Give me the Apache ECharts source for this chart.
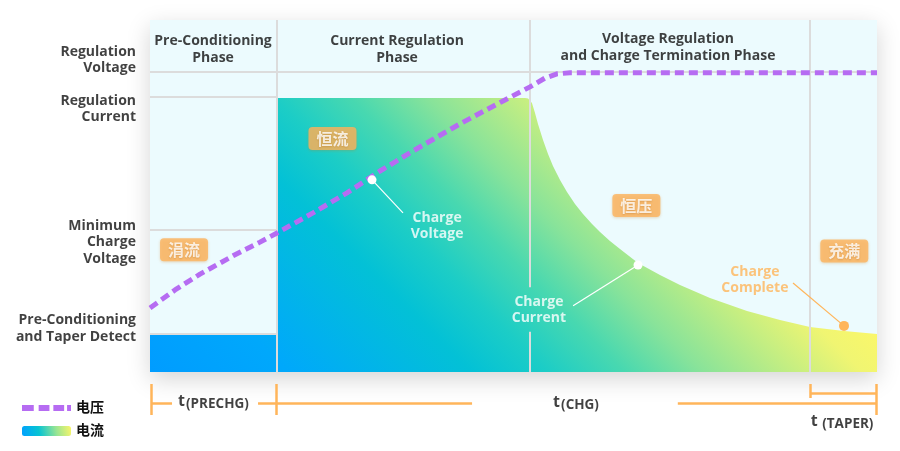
<!DOCTYPE html>
<html><head><meta charset="utf-8">
<script src="https://cdn.jsdelivr.net/npm/echarts@6/dist/echarts.min.js"></script>
<style>html,body{margin:0;padding:0;background:#fff}#c{width:900px;height:451px}</style>
</head><body><div id="c"></div>
<script>
// ---- Data (time axis 0-100, level axis 0-100) ----
const phaseEdges = [17.5, 52.3, 90.8];
const headerLevel = 85.2;
const precondLevels = [78.1, 40.3, 10.8];
const dividerGap = [11.4, 24.1];

const voltageT = [0, 3.44, 6.88, 11.42, 15.13, 17.47, 22.42, 27.1, 31.64, 36.18, 42.64, 48.56, 52.27, 54.33, 55.98, 57.77, 100];
const voltageV = [18.2, 23.3, 27.8, 33.0, 36.9, 39.5, 45.2, 50.9, 57.1, 62.8, 70.5, 77.0, 81.0, 83.5, 84.7, 85.0, 85.0];

const currentT = [0, 17.5, 17.5, 51.6, 52.0, 52.27, 52.54, 52.96, 53.37, 54.06, 54.75, 55.43, 56.40, 57.36, 58.46, 59.56, 60.80, 61.90, 63.27, 64.65, 67.13, 70.15, 72.90, 77.03, 82.12, 86.66, 90.78, 95.46, 100];
const currentI = [10.5, 10.5, 77.84, 77.84, 77.7, 77.3, 76.42, 73.58, 70.45, 65.91, 61.93, 58.52, 54.55, 51.14, 47.73, 44.89, 42.05, 39.77, 37.22, 34.94, 30.97, 27.56, 24.72, 21.02, 17.33, 14.77, 12.78, 11.65, 10.80];

const yLabelNames = ['Regulation\nVoltage', 'Regulation\nCurrent', 'Minimum\nCharge\nVoltage', 'Pre-Conditioning\nand Taper Detect'];
const yLabelLevels = [88.6, 74.7, 36.9, 12.4];

const phaseNames = ['Pre-Conditioning\nPhase', 'Current Regulation\nPhase', 'Voltage Regulation\nand Charge Termination Phase'];
const phaseNameX = [8.67, 33.98, 71.25];
const phaseNameY = [91.5, 91.6, 92.2];

const badgeNames = ['涓流', '恒流', '恒压', '充满'];
const badgeX = [4.68, 25.1, 66.9, 95.5];
const badgeY = [34.7, 66.3, 47.3, 34.4];

const noteNames = ['Charge\nVoltage', 'Charge\nCurrent', 'Charge\nComplete'];
const noteColors = ['#ffffff', '#ffffff', '#ffb55a'];
const noteX = [39.49, 53.5, 83.2];
const noteY = [41.6, 17.5, 26.1];
const notePointX = [30.54, 67.13, 95.46];
const notePointY = [54.6, 30.4, 13.1];
const noteLeaderX = [34.8, 58.2, 88.45];
const noteLeaderY = [45.2, 18.8, 25.3];

// timeline (second grid, level measured downward)
const tlNames = ['PRECHG', 'CHG', 'TAPER'];
const tlLabelX = [8.73, 58.6, 95.2];
const tlLabelY = [32, 33, 52];
const tlMainY = 31, tlTaperY = 21, tlTickTop = 12, tlTickBot = 43, tlTaperTickBot = 26;
const tlMainSegs = [[0.15, 3.03], [14.86, 44.3], [72.6, 99.9]];
const tlTicksX = [0.15, 17.3, 99.9];
const tlTaperX = [90.8, 99.9];

const legendNames = ['电压', '电流'];

// ---- Build ----
const FONT = '"Open Sans","Noto Sans CJK SC",sans-serif';
const zip = (a, b) => a.map((v, i) => [v, b[i]]);

const gridLines = [{coords: [[0, headerLevel], [100, headerLevel]]}];
precondLevels.forEach(l => gridLines.push({coords: [[0, l], [phaseEdges[0], l]]}));
gridLines.push({coords: [[phaseEdges[0], 0], [phaseEdges[0], 100]]});
gridLines.push({coords: [[phaseEdges[1], 100], [phaseEdges[1], dividerGap[1]]]});
gridLines.push({coords: [[phaseEdges[1], dividerGap[0]], [phaseEdges[1], 0]]});
gridLines.push({coords: [[phaseEdges[2], 0], [phaseEdges[2], 100]]});

const leaders = notePointX.map((x, i) => ({coords: [[x, notePointY[i]], [noteLeaderX[i], noteLeaderY[i]]], lineStyle: {color: noteColors[i]}}));

const tlSegs = [];
tlMainSegs.forEach(s => tlSegs.push({coords: [[s[0], tlMainY], [s[1], tlMainY]]}));
tlTicksX.forEach(x => tlSegs.push({coords: [[x, tlTickTop], [x, tlTickBot]]}));
tlSegs.push({coords: [[tlTaperX[0], tlTickTop], [tlTaperX[0], tlTaperTickBot]]});
tlSegs.push({coords: [[tlTaperX[0], tlTaperY], [tlTaperX[1], tlTaperY]]});

const stops = [
  {offset: 0, color: '#009cff'}, {offset: 0.18, color: '#00a8fb'}, {offset: 0.42, color: '#03c1d6'},
  {offset: 0.52, color: '#1ccdc6'}, {offset: 0.62, color: '#48d8b0'}, {offset: 0.72, color: '#88e39a'},
  {offset: 0.84, color: '#c4ee82'}, {offset: 0.93, color: '#f0f572'}, {offset: 1, color: '#faf76a'}
];
const areaGrad = new echarts.graphic.LinearGradient(0, 1, 0.527, -0.398, stops);
const legendGrad = new echarts.graphic.LinearGradient(0, 1, 1, 0, [
  {offset: 0, color: '#00a0ff'}, {offset: 0.35, color: '#08c4d2'}, {offset: 0.7, color: '#9ae592'}, {offset: 1, color: '#faf56a'}]);

const VCOLOR = '#b66cf2';
const dashIcon = 'path://M0,0L0.01,0L0.01,0.01Z M0,2H12V8H0Z M17,2H28V8H17Z M32,2H43V8H32Z M46,2H50V8H46Z M0,9.99L0.01,10L0,10Z';

const option = {
  animation: false,
  textStyle: {fontFamily: FONT},
  grid: [
    {left: 150, right: 23, top: 20, bottom: 79, show: true, backgroundColor: '#ecfbfe', borderWidth: 0,
     shadowBlur: 22, shadowColor: 'rgba(0,0,0,0.17)', shadowOffsetY: 7},
    {left: 150, right: 23, top: 372, height: 79, show: false}
  ],
  xAxis: [
    {type: 'value', min: 0, max: 100, show: false, gridIndex: 0},
    {type: 'value', min: 0, max: 100, show: false, gridIndex: 1}
  ],
  yAxis: [
    {type: 'value', min: 0, max: 100, show: false, gridIndex: 0},
    {type: 'value', min: 0, max: 79, inverse: true, show: false, gridIndex: 1}
  ],
  legend: {
    orient: 'vertical', left: 17, top: 396, itemWidth: 49, itemHeight: 10, itemGap: 9,
    selectedMode: false,
    textStyle: {fontSize: 14, fontWeight: 'bold', color: '#111', fontFamily: FONT},
    data: [
      {name: legendNames[0], icon: dashIcon, itemStyle: {color: VCOLOR, borderWidth: 0}},
      {name: legendNames[1], icon: 'roundRect', itemStyle: {color: legendGrad, borderWidth: 0}}
    ]
  },
  series: [
    {type: 'lines', coordinateSystem: 'cartesian2d', silent: true, z: 1, polyline: false,
     lineStyle: {color: '#dcdcdc', width: 2, opacity: 1, curveness: 0}, data: gridLines.slice(0, 4)},
    {name: legendNames[1], type: 'line', z: 2, data: zip(currentT, currentI), showSymbol: false, symbol: 'none',
     color: '#10c8c8', lineStyle: {width: 0}, areaStyle: {color: areaGrad, opacity: 1}, silent: true},
    {type: 'lines', coordinateSystem: 'cartesian2d', silent: true, z: 3, polyline: false,
     lineStyle: {color: '#dcdcdc', width: 2, opacity: 1, curveness: 0}, data: gridLines.slice(4)},
    {name: legendNames[0], type: 'line', z: 4, data: zip(voltageT, voltageV), showSymbol: false, symbol: 'none',
     color: VCOLOR, lineStyle: {color: VCOLOR, width: 5, type: [9, 5], cap: 'butt'}, silent: true},
    {type: 'lines', coordinateSystem: 'cartesian2d', silent: true, z: 5, polyline: false,
     lineStyle: {width: 1.2, opacity: 1, curveness: 0}, data: leaders},
    {type: 'scatter', z: 6, silent: true,
     data: notePointX.map((x, i) => ({value: [x, notePointY[i]], symbolSize: i === 2 ? 10 : 9, itemStyle: {color: noteColors[i], opacity: 1}}))},
    {type: 'scatter', z: 7, silent: true, symbolSize: 0,
     data: noteX.map((x, i) => ({value: [x, noteY[i]], label: {color: noteColors[i]}})),
     label: {show: true, position: 'inside', fontSize: 14, fontWeight: 'bold', lineHeight: 16, align: 'center',
       formatter: p => noteNames[p.dataIndex]}},
    {type: 'scatter', z: 7, silent: true, symbolSize: 0,
     data: zip(badgeX, badgeY),
     label: {show: true, position: 'inside', fontSize: 16, fontWeight: 'bold', color: '#fff',
       fontFamily: '"Noto Sans CJK SC",sans-serif',
       backgroundColor: '#fdb35c', borderRadius: 4, padding: [4, 8, 3, 8],
       textShadowColor: 'rgba(150,80,0,0.35)', textShadowBlur: 2, textShadowOffsetY: 1,
       shadowColor: 'rgba(200,120,20,0.35)', shadowBlur: 3, shadowOffsetY: 1,
       formatter: p => badgeNames[p.dataIndex]}},
    {type: 'scatter', z: 7, silent: true, symbolSize: 0,
     data: zip(phaseNameX, phaseNameY),
     label: {show: true, position: 'inside', fontSize: 14, fontWeight: 'bold', color: '#111', lineHeight: 17, align: 'center',
       formatter: p => phaseNames[p.dataIndex]}},
    {type: 'scatter', z: 7, silent: true, symbolSize: 0, clip: false,
     data: yLabelLevels.map(l => [0, l]),
     label: {show: true, position: 'left', distance: 14, fontSize: 14, fontWeight: 'bold', color: '#111', lineHeight: 16.5, align: 'right',
       formatter: p => yLabelNames[p.dataIndex]}},
    {type: 'lines', coordinateSystem: 'cartesian2d', xAxisIndex: 1, yAxisIndex: 1, silent: true, z: 3, polyline: false,
     lineStyle: {color: '#ffb55a', width: 2.5, opacity: 1, curveness: 0}, data: tlSegs},
    {type: 'scatter', xAxisIndex: 1, yAxisIndex: 1, z: 7, silent: true, symbolSize: 0, clip: false,
     data: zip(tlLabelX, tlLabelY),
     label: {show: true, position: 'inside', color: '#111',
       formatter: p => '{t|t}{s|' + (p.dataIndex === 2 ? ' ' : '') + '(' + tlNames[p.dataIndex] + ')}',
       rich: {t: {fontSize: 16, fontWeight: 'bold', color: '#111', padding: [0, 1, 5, 0], fontFamily: FONT},
              s: {fontSize: 13.5, fontWeight: 'bold', color: '#111', fontFamily: FONT}}}}
  ]
};
const chart = echarts.init(document.getElementById('c'), null, {renderer: 'canvas'});
chart.setOption(option);
</script></body></html>
